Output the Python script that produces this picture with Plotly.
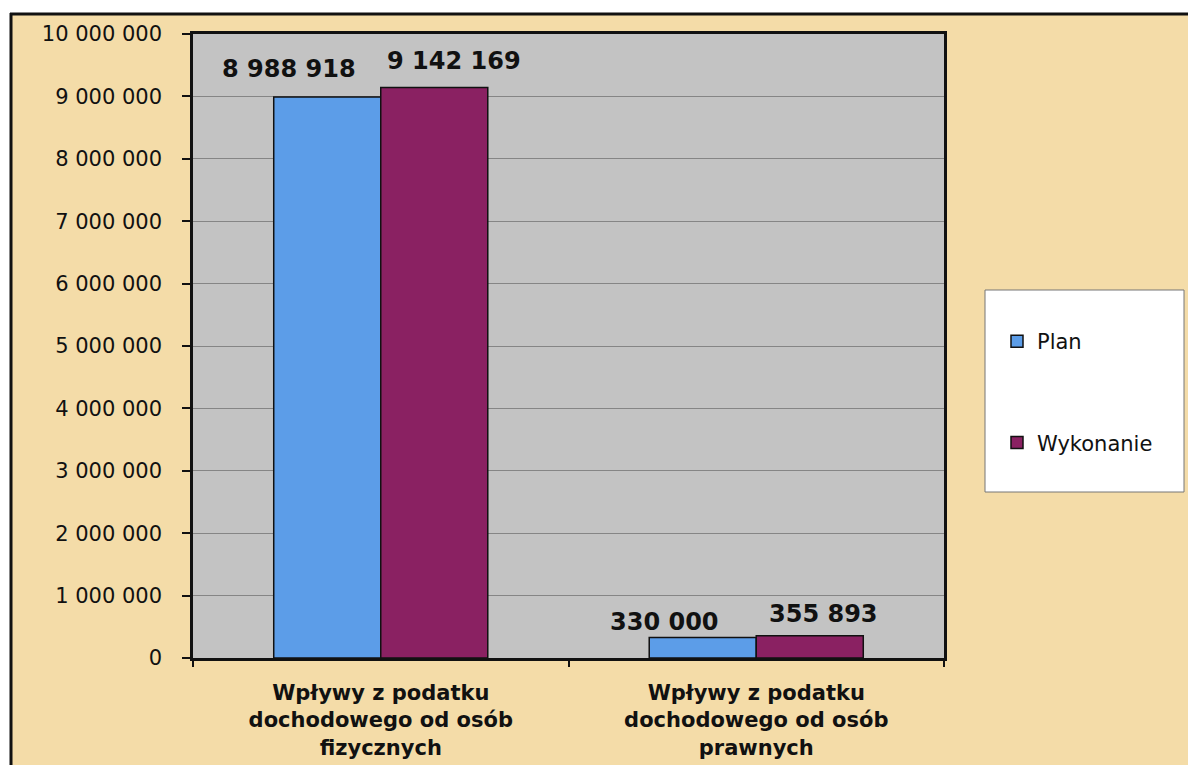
import plotly.graph_objects as go

categories = ["Wpływy z podatku<br>dochodowego od osób<br>fizycznych",
              "Wpływy z podatku<br>dochodowego od osób<br>prawnych"]
series_names = ["Plan", "Wykonanie"]
plan_values = [8988918, 330000]
wykonanie_values = [9142169, 355893]
y_ticks = list(range(0, 10000001, 1000000))

colors = ["#5C9DE8", "#8A2162"]
FONT = "DejaVu Sans"

# label placement style (pixel shifts, xshift / yshift) per series and category index
label_style = {
    ("Plan", 0): (-92, 12), ("Plan", 1): (-92, -1),
    ("Wykonanie", 0): (73, 11), ("Wykonanie", 1): (67, 6),
}

def fmt(v):
    return f"{v:,}".replace(",", " ")

W, H = 1188, 765
L, R, T, B = 193, 944, 34, 658

def px(x):
    return (x - L) / (R - L)

def py(y):
    return (B - y) / (B - T)

fig = go.Figure()
for name, vals, col, grp in [(series_names[0], plan_values, colors[0], "a"),
                             (series_names[1], wykonanie_values, colors[1], "b")]:
    fig.add_trace(go.Bar(
        name=name, x=categories, y=vals, legendgroup=grp,
        marker=dict(color=col, line=dict(color="#111111", width=1.5)),
    ))

annotations = []
for name, vals in [(series_names[0], plan_values), (series_names[1], wykonanie_values)]:
    for i, (c, v) in enumerate(zip(categories, vals)):
        xs, ys = label_style[(name, i)]
        annotations.append(dict(
            x=c, y=v, xref="x", yref="y", text=fmt(v), showarrow=False,
            xshift=xs, yanchor="bottom", yshift=ys,
            font=dict(family=FONT, size=24, color="#111111", weight="bold"),
        ))

shapes = [
    # white strips outside the frame (top and left)
    dict(type="rect", xref="paper", yref="paper", x0=px(-5), x1=px(1200), y0=py(14), y1=py(-5),
         fillcolor="white", line=dict(width=0), layer="below"),
    dict(type="rect", xref="paper", yref="paper", x0=px(-5), x1=px(10), y0=py(800), y1=py(-5),
         fillcolor="white", line=dict(width=0), layer="below"),
    # frame lines (left and top)
    dict(type="line", xref="paper", yref="paper", x0=px(11), x1=px(11), y0=py(13), y1=py(780),
         line=dict(color="#111111", width=3), layer="below"),
    dict(type="line", xref="paper", yref="paper", x0=px(10), x1=px(1200), y0=py(14), y1=py(14),
         line=dict(color="#111111", width=3), layer="below"),
    # legend box
    dict(type="rect", xref="paper", yref="paper", x0=px(985), x1=px(1184), y0=py(492), y1=py(290),
         fillcolor="white", line=dict(color="#777777", width=1), layer="below"),
]

fig.update_layout(
    width=W, height=H, autosize=False,
    margin=dict(l=L, r=W - R, t=T, b=H - B, pad=0),
    paper_bgcolor="#F4DCA8",
    plot_bgcolor="#C3C3C3",
    separators=". ",
    barmode="group",
    bargap=0.43,
    bargroupgap=0,
    font=dict(family=FONT, color="#111111"),
    showlegend=True,
    legend=dict(
        x=px(997), y=py(321), xanchor="left", yanchor="top",
        bgcolor="rgba(0,0,0,0)", borderwidth=0,
        font=dict(family=FONT, size=21, color="#111111"),
        traceorder="grouped", tracegroupgap=71,
    ),
    shapes=shapes,
    annotations=annotations,
)

fig.update_yaxes(
    range=[0, 10000000], tickvals=y_ticks, tickformat=",d",
    showgrid=True, gridcolor="#858585", gridwidth=1,
    showline=True, linecolor="#111111", linewidth=2.5, mirror=True,
    ticks="outside", ticklen=8, tickwidth=2, tickcolor="#111111",
    ticklabelstandoff=16, automargin=False,
    tickfont=dict(family=FONT, size=21, color="#111111"),
    zeroline=False,
)
fig.update_xaxes(
    showline=True, linecolor="#111111", linewidth=2.5, mirror=True,
    ticks="outside", tickson="boundaries", ticklen=6, tickwidth=1.5, tickcolor="#111111",
    ticklabelstandoff=14, automargin=False,
    tickfont=dict(family=FONT, size=21, color="#111111", weight="bold"),
)

fig.write_html(
    "out.html",
    config={"displayModeBar": False},
    post_script="document.body.style.margin='0';document.body.style.overflow='hidden';",
)
